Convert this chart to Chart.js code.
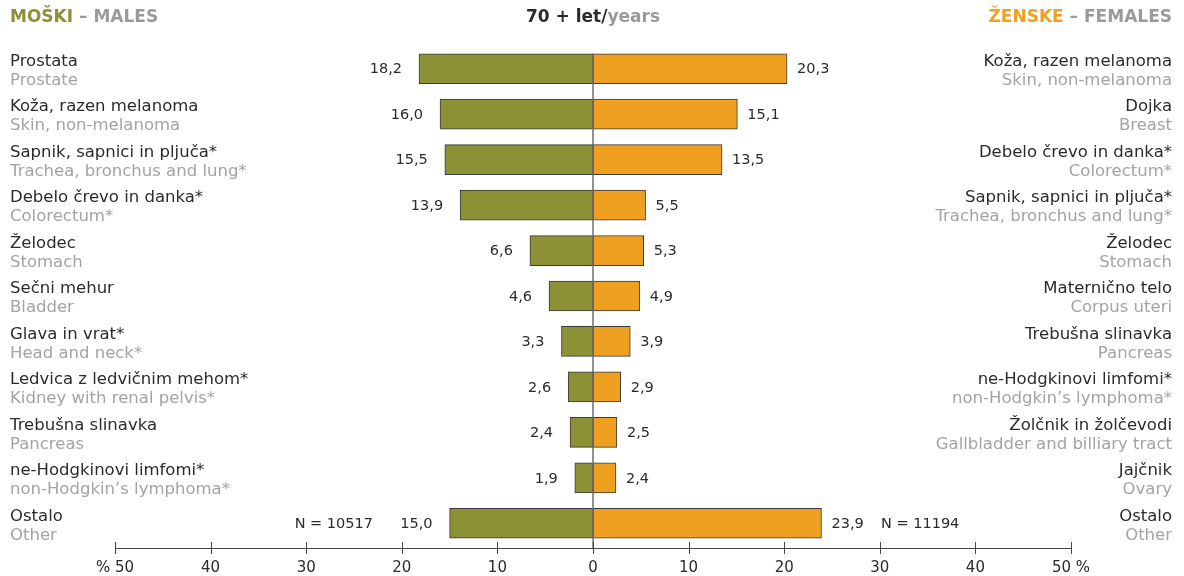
<!DOCTYPE html>
<html>
<head>
<meta charset="utf-8">
<script src="https://cdn.jsdelivr.net/npm/chart.js@4/dist/chart.umd.min.js"></script>
<style>
  html, body { margin: 0; padding: 0; background: #fff; }
  #wrap { width: 1184px; height: 576px; position: relative; }
</style>
</head>
<body>
<div id="wrap"><canvas id="chart"></canvas></div>
<script>
// 70+ years, males vs females, share of cancer sites (%)

const maleSites = ['Prostata', 'Koža, razen melanoma', 'Sapnik, sapnici in pljuča*', 'Debelo črevo in danka*',
    'Želodec', 'Sečni mehur', 'Glava in vrat*', 'Ledvica z ledvičnim mehom*', 'Trebušna slinavka',
    'ne-Hodgkinovi limfomi*', 'Ostalo'];
const maleSitesEn = ['Prostate', 'Skin, non-melanoma', 'Trachea, bronchus and lung*', 'Colorectum*',
    'Stomach', 'Bladder', 'Head and neck*', 'Kidney with renal pelvis*', 'Pancreas',
    'non-Hodgkin’s lymphoma*', 'Other'];
const maleValues = [18.2, 16.0, 15.5, 13.9, 6.6, 4.6, 3.3, 2.6, 2.4, 1.9, 15.0];

const femaleSites = ['Koža, razen melanoma', 'Dojka', 'Debelo črevo in danka*', 'Sapnik, sapnici in pljuča*',
    'Želodec', 'Maternično telo', 'Trebušna slinavka', 'ne-Hodgkinovi limfomi*', 'Žolčnik in žolčevodi',
    'Jajčnik', 'Ostalo'];
const femaleSitesEn = ['Skin, non-melanoma', 'Breast', 'Colorectum*', 'Trachea, bronchus and lung*',
    'Stomach', 'Corpus uteri', 'Pancreas', 'non-Hodgkin’s lymphoma*', 'Gallbladder and billiary tract',
    'Ovary', 'Other'];
const femaleValues = [20.3, 15.1, 13.5, 5.5, 5.3, 4.9, 3.9, 2.9, 2.5, 2.4, 23.9];

const maleN = 'N = 10517';
const femaleN = 'N = 11194';
const tickValues = [-50, -40, -30, -20, -10, 0, 10, 20, 30, 40, 50];
const tickLabels = ['% 50', '40', '30', '20', '10', '0', '10', '20', '30', '40', '50 %'];

const OLIVE = '#8b9134';
const ORANGE = '#f0a020';
const GREY = '#a3a3a3';
const FONT = '"DejaVu Sans", sans-serif';

const fmt = v => v.toFixed(1).replace('.', ',');

const labelsPlugin = {
    id: 'labels',
    afterDraw(chart) {
        const c = chart.ctx;
        const ys = chart.scales.y;
        const xs = chart.scales.x;
        const x0 = xs.getPixelForValue(0);
        c.save();
        c.textBaseline = 'middle';

        // headers
        c.font = 'bold 17px ' + FONT;
        c.textAlign = 'left';
        c.fillStyle = OLIVE;
        c.fillText('MOŠKI', 10, 18);
        let w = c.measureText('MOŠKI').width;
        c.fillStyle = '#999a9c';
        c.fillText(' – MALES', 10 + w, 18);

        c.textAlign = 'right';
        c.fillStyle = '#999a9c';
        c.fillText(' – FEMALES', 1172, 18);
        w = c.measureText(' – FEMALES').width;
        c.fillStyle = ORANGE;
        c.fillText('ŽENSKE', 1172 - w, 18);

        const t1 = '70 + let/', t2 = 'years';
        const w1 = c.measureText(t1).width, w2 = c.measureText(t2).width;
        const sx = x0 - (w1 + w2) / 2;
        c.textAlign = 'left';
        c.fillStyle = '#2b2b2b';
        c.fillText(t1, sx, 18);
        c.fillStyle = '#999a9c';
        c.fillText(t2, sx + w1, 18);

        // category labels
        c.font = '16.5px ' + FONT;
        maleSites.forEach((s, i) => {
            const y = ys.getPixelForValue(i);
            c.textAlign = 'left';
            c.fillStyle = '#2b2b2b';
            c.fillText(s, 10, y - 7);
            c.fillStyle = GREY;
            c.fillText(maleSitesEn[i], 10, y + 12);

            c.textAlign = 'right';
            c.fillStyle = '#2b2b2b';
            c.fillText(femaleSites[i], 1172, y - 7);
            c.fillStyle = GREY;
            c.fillText(femaleSitesEn[i], 1172, y + 12);
        });

        // values
        c.font = '14.5px ' + FONT;
        c.fillStyle = '#2b2b2b';
        maleValues.forEach((v, i) => {
            const y = ys.getPixelForValue(i);
            c.textAlign = 'right';
            c.fillText(fmt(v), xs.getPixelForValue(-v) - 17, y + 1);
            c.textAlign = 'left';
            c.fillText(fmt(femaleValues[i]), xs.getPixelForValue(femaleValues[i]) + 10, y + 1);
        });

        const yl = ys.getPixelForValue(maleSites.length - 1);
        c.textAlign = 'right';
        c.fillText(maleN, 373, yl + 1);
        c.textAlign = 'left';
        c.fillText(femaleN, 881, yl + 1);

        // zero line
        const top = ys.getPixelForValue(0) - 15;
        const by = chart.chartArea.bottom + 2;
        c.strokeStyle = '#6e6e6e';
        c.lineWidth = 1.5;
        c.beginPath();
        c.moveTo(x0, top);
        c.lineTo(x0, by);
        c.stroke();

        // axis ticks crossing the baseline
        c.strokeStyle = '#444';
        c.lineWidth = 1;
        tickValues.forEach(v => {
            const x = Math.round(xs.getPixelForValue(v)) + 0.5;
            c.beginPath();
            c.moveTo(x, by - 6);
            c.lineTo(x, by + 6);
            c.stroke();
        });
        c.beginPath();
        c.moveTo(xs.left, by + 0.5);
        c.lineTo(xs.right, by + 0.5);
        c.stroke();
        c.restore();
    }
};

const ctx = document.getElementById('chart').getContext('2d');
const chart = new Chart(ctx, {
    type: 'bar',
    data: {
        labels: maleSites.map((s, i) => i),
        datasets: [{
            label: 'Moški',
            data: maleValues.map(v => -v),
            backgroundColor: OLIVE,
            borderColor: '#3a3a3a',
            borderWidth: 1,
            borderSkipped: false,
            barThickness: 30,
        }, {
            label: 'Ženske',
            data: femaleValues,
            backgroundColor: ORANGE,
            borderColor: '#3a3a3a',
            borderWidth: 1,
            borderSkipped: false,
            barThickness: 30,
        }],
    },
    options: {
        indexAxis: 'y',
        responsive: true,
        maintainAspectRatio: false,
        animation: false,
        layout: { padding: { left: 115, right: 113, top: 46, bottom: 0 } },
        plugins: {
            legend: { display: false },
            tooltip: { enabled: false },
        },
        scales: {
            x: {
                stacked: true,
                min: -50,
                max: 50,
                afterBuildTicks: axis => { axis.ticks = tickValues.map(v => ({ value: v })); },
                afterFit: axis => { axis.height = 30; },
                grid: { display: false, drawTicks: false },
                border: { display: false },
                ticks: {
                    padding: 13,
                    color: '#2b2b2b',
                    font: { family: 'DejaVu Sans', size: 15 },
                    maxRotation: 0,
                    autoSkip: false,
                    callback: (v, i) => tickLabels[i],
                },
            },
            y: {
                stacked: true,
                display: false,
            },
        },
    },
    plugins: [labelsPlugin],
});
</script>
</body>
</html>
